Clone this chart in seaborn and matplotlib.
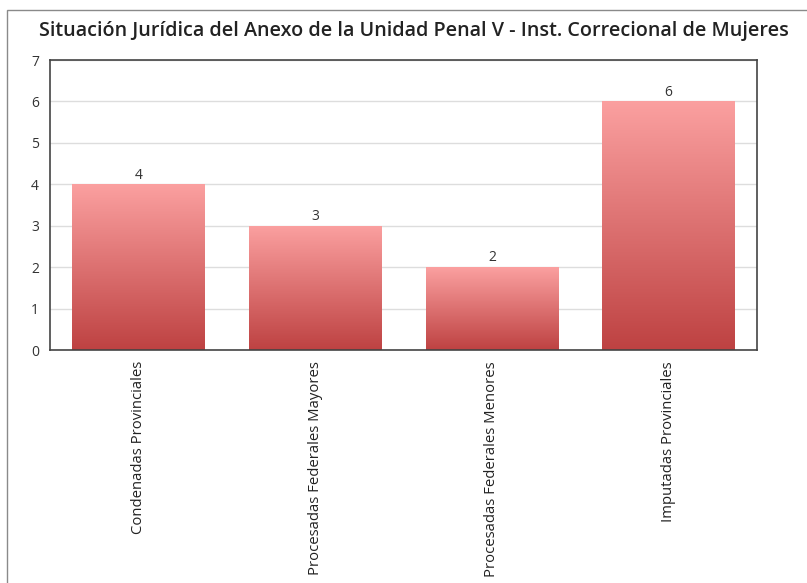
import numpy as np
import pandas as pd
import seaborn as sns
import matplotlib.pyplot as plt
from matplotlib.colors import LinearSegmentedColormap
from matplotlib.patches import Rectangle

categorias = ["Condenadas Provinciales", "Procesadas Federales Mayores",
              "Procesadas Federales Menores", "Imputadas Provinciales"]
cantidades = [4, 3, 2, 6]

df = pd.DataFrame({"categoria": categorias, "cantidad": cantidades})

sns.set_style("white")
plt.rcParams["font.family"] = ["Open Sans", "DejaVu Sans"]

fig = plt.figure(figsize=(8.07, 5.83), dpi=100)
ax = fig.add_axes([50 / 807, 1 - 350 / 583, 707 / 807, 290 / 583])

sns.barplot(data=df, x="categoria", y="cantidad", color="#e07070", width=0.75,
            ax=ax, saturation=1)

# gradient fill for each bar (light pink on top, darker red at bottom)
cmap = LinearSegmentedColormap.from_list("rojo", ["#fba0a0", "#be4242"])
grad = np.linspace(0, 1, 256).reshape(-1, 1)
for bar in ax.patches:
    x0, y0 = bar.get_x(), bar.get_y()
    w, h = bar.get_width(), bar.get_height()
    bar.set_facecolor("none")
    bar.set_edgecolor("none")
    img = ax.imshow(grad, cmap=cmap, aspect="auto",
                    extent=[x0, x0 + w, y0, y0 + h], origin="upper", zorder=2)
    img.set_clip_path(bar)
    ax.text(x0 + w / 2, y0 + h + 0.04, f"{h:g}", ha="center", va="bottom",
            fontsize=10, color="#333333")

ax.set_xlim(-0.5, 3.5)
ax.set_ylim(0, 7)
ax.set_yticks(range(0, 8))
ax.yaxis.grid(True, color="#dddddd", linewidth=1)
ax.set_axisbelow(True)
for s in ax.spines.values():
    s.set_color("#444444")
    s.set_linewidth(1.2)
ax.tick_params(axis="y", labelsize=10, colors="#333333", length=0, pad=8)
ax.tick_params(axis="x", labelsize=10.7, colors="#222222", length=0, pad=8)
plt.setp(ax.get_xticklabels(), rotation=90)
ax.set_xlabel("")
ax.set_ylabel("")

fig.text(414 / 807, 1 - 31 / 583,
         "Situación Jurídica del Anexo de la Unidad Penal V - Inst. Correcional de Mujeres",
         ha="center", va="center", fontsize=14.2, fontweight="semibold", color="#222222")

# outer frame of the chart
fig.patches.append(Rectangle((7 / 807, -0.1), 1.2, 1 - 10 / 583 + 0.1,
                             transform=fig.transFigure, fill=False,
                             edgecolor="#8a8a8a", linewidth=1))

fig.savefig("out.png", dpi=100)
